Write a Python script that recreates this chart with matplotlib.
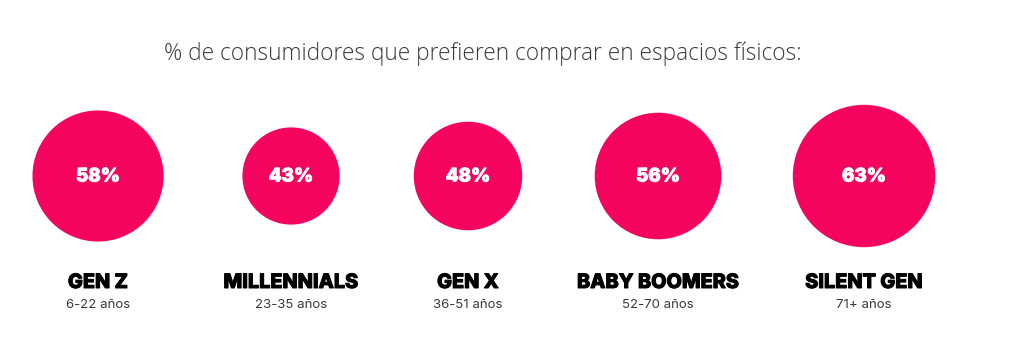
import matplotlib
matplotlib.use("Agg")
import matplotlib.pyplot as plt
import matplotlib.patheffects as pe
from matplotlib.patches import Circle

# Share of shoppers who prefer buying in physical stores, by generation
generations = ["GEN Z", "MILLENNIALS", "GEN X", "BABY BOOMERS", "SILENT GEN"]
age_ranges = ["6-22 años", "23-35 años", "36-51 años", "52-70 años", "71+ años"]
share_pct = [58, 43, 48, 56, 63]

title = "% de consumidores que prefieren comprar en espacios físicos:"

# Layout (pixel space of a 1024x350 canvas)
W, H = 1024, 350
x_centers = [98, 291, 468, 658, 864]
y_circle = 176
px_per_pct = 1.13          # circle radius in pixels per percentage point
y_name = 283
y_age = 305
pink = "#F5045F"

fig = plt.figure(figsize=(W / 100, H / 100), dpi=100)
ax = fig.add_axes([0, 0, 1, 1])
ax.set_xlim(0, W)
ax.set_ylim(H, 0)
ax.set_aspect("equal")
ax.axis("off")

ax.text(482.5, 54, title, ha="center", va="center", fontsize=16.3,
        family="Open Sans", weight="light", color="#3a3a3a")


def heavy(color):
    # thicken the glyph outlines a little for a blacker look
    return [pe.withStroke(linewidth=0.7, foreground=color)]


for x, name, ages, v in zip(x_centers, generations, age_ranges, share_pct):
    ax.add_patch(Circle((x, y_circle), v * px_per_pct, color=pink, lw=0))
    ax.text(x, y_circle + 1, f"{v}%", ha="center", va="center", fontsize=13.5,
            family="Inter", weight="heavy", color="white",
            path_effects=heavy("white"))
    ax.text(x, y_name, name, ha="center", va="center", fontsize=14.3,
            family="Inter", weight="heavy", color="black",
            path_effects=heavy("black"))
    ax.text(x, y_age, ages, ha="center", va="center", fontsize=9.5,
            family="Inter", color="#3a3a3a")

fig.savefig("out.png", dpi=100, facecolor="white")
